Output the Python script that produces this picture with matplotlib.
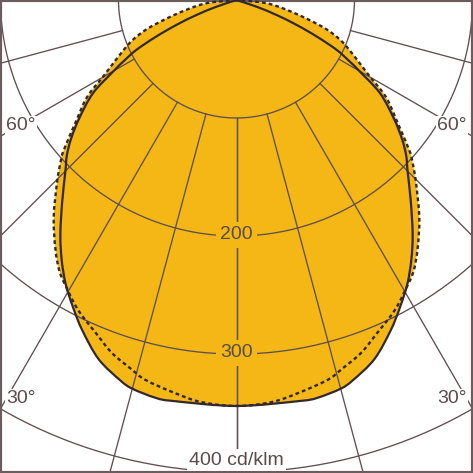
import numpy as np
import matplotlib
matplotlib.use("Agg")
import matplotlib.pyplot as plt
from matplotlib.path import Path
from matplotlib.patches import PathPatch

# light distribution, angle from nadir (deg) -> cd/klm, symmetric left/right
ang_solid = [0, 9, 11.5, 15, 17, 21, 25, 28, 31, 34, 37, 41, 45, 47.5, 50,
             53, 57, 60, 61.5, 63.5, 65.5, 67.5, 69.5, 71.5, 74, 90]
val_solid = [344, 344, 344, 341, 337, 326, 309, 295, 281, 265, 248, 225, 205, 195, 183,
             167, 145, 120, 109, 95, 75, 55, 36, 18, 0, 0]

ang_dash = [0, 5, 9, 13.5, 16, 19.5, 23, 26, 28, 30, 33, 36, 40, 44.5, 47.5, 49,
            53, 57, 60, 62, 66, 69, 72, 75, 79, 84, 90]
val_dash = [344, 342, 337, 331, 325, 317, 306, 298, 292, 285, 275, 261, 241, 217, 202, 194,
            170, 151, 131, 121, 105, 94, 80, 62, 43, 25, 0]

rings = [100, 200, 300, 400]
spokes = [0, 15, 30, 45, 60, 75, 90]
ring_labels = {200: "200", 300: "300", 400: "400 cd/klm"}
angle_labels = {60: "60°", 30: "30°"}

FILL = "#f4b716"
GRID = "#5e4f50"
CURVE = "#33282e"
TEXT = "#5a4b4d"
FONT = ["Liberation Sans", "DejaVu Sans"]


def to_xy(angles, values):
    a = np.radians(np.asarray(angles, dtype=float))
    v = np.asarray(values, dtype=float)
    # mirror: left half from 90 -> 0, right half 0 -> 90
    a_full = np.concatenate([-a[::-1], a[1:]])
    v_full = np.concatenate([v[::-1], v[1:]])
    return v_full * np.sin(a_full), -v_full * np.cos(a_full)


def smooth_path(x, y):
    # catmull-rom through the read points, drawn as bezier segments
    pts = np.column_stack([x, y])
    n = len(pts)
    verts = [pts[0]]
    codes = [Path.MOVETO]
    for i in range(n - 1):
        p0 = pts[max(i - 1, 0)]; p1 = pts[i]
        p2 = pts[i + 1]; p3 = pts[min(i + 2, n - 1)]
        verts += [p1 + (p2 - p0) / 6, p2 - (p3 - p1) / 6, p2]
        codes += [Path.CURVE4] * 3
    return Path(verts, codes)


fig = plt.figure(figsize=(4.73, 4.73), dpi=100)
ax = fig.add_axes([0, 0, 1, 1])
ax.set_xlim(-200.4, 200.4)
ax.set_ylim(-400.8, 0)
ax.set_aspect("equal")
ax.set_xticks([]); ax.set_yticks([])
for s in ax.spines.values():
    s.set_color("#6b5c5d"); s.set_linewidth(3)

path_s = smooth_path(*to_xy(ang_solid, val_solid))
path_d = smooth_path(*to_xy(ang_dash, val_dash))
ax.add_patch(PathPatch(path_s, fc=FILL, ec="none", zorder=1))
ax.add_patch(PathPatch(path_d, fc=FILL, ec="none", zorder=1))

# grid: rings and spokes (spokes start at the 100 ring)
t = np.linspace(0, 2 * np.pi, 721)
for r in rings:
    ax.plot(r * np.cos(t), r * np.sin(t), color=GRID, lw=0.95, zorder=2)
for sp in spokes:
    a = np.radians(sp)
    for sgn in (-1, 1):
        ax.plot([sgn * rings[0] * np.sin(a), sgn * 700 * np.sin(a)],
                [-rings[0] * np.cos(a), -700 * np.cos(a)],
                color=GRID, lw=0.95, zorder=2)

ax.add_patch(PathPatch(path_d, fc="none", ec=CURVE, lw=1.7,
                       linestyle=(0, (1.6, 1.3)), zorder=3))
ax.add_patch(PathPatch(path_s, fc="none", ec=CURVE, lw=1.6, zorder=3))

# ring labels on the vertical axis
for r, lab in ring_labels.items():
    if r == 400:
        ax.text(0, -390, lab, ha="center", va="center", fontsize=14, color=TEXT,
                family=FONT, zorder=4,
                bbox=dict(boxstyle="square,pad=0.12", fc="white", ec="none"))
    else:
        ax.text(0, -r + 1, lab, ha="center", va="center", fontsize=14, color=TEXT,
                family=FONT, zorder=4,
                bbox=dict(boxstyle="square,pad=0.22", fc=FILL, ec="none"))

# angle labels near the left/right edges
pos = {60: -106.5, 30: -338}
for ang, lab in angle_labels.items():
    for sgn in (-1, 1):
        ax.text(sgn * 182.5, pos[ang], lab, ha="center", va="center", fontsize=14,
                color=TEXT, family=FONT, zorder=4,
                bbox=dict(boxstyle="square,pad=0.05", fc="white", ec="none"))

fig.savefig("out.png", dpi=100)
